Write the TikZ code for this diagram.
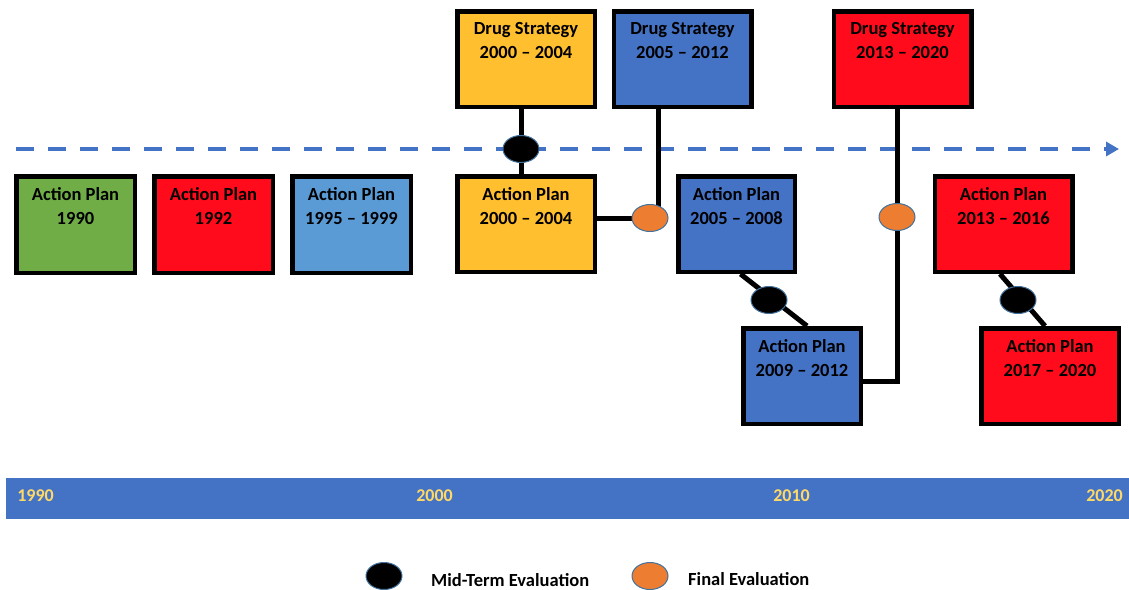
\documentclass[tikz,border=0pt]{standalone}
\usepackage{fontspec}
\setmainfont{Carlito}
\usetikzlibrary{arrows.meta,shapes.geometric}
\definecolor{cgreen}{HTML}{70AD47}
\definecolor{cred}{HTML}{FF0B1B}
\definecolor{clblue}{HTML}{5B9BD5}
\definecolor{cblue}{HTML}{4472C4}
\definecolor{cgold}{HTML}{FFBF2E}
\definecolor{corange}{HTML}{ED7D31}
\definecolor{cedge}{HTML}{41719C}
\definecolor{cyear}{HTML}{FFD966}
\tikzset{
  box/.style={draw=black, line width=4.5pt, inner sep=0pt, minimum width=137.5pt, minimum height=95.5pt},
  smallbox/.style={box, minimum width=118.5pt, minimum height=96.5pt},
  boxtext/.style={anchor=north, inner sep=0pt, yshift=-13.5pt, align=center,
    font=\fontsize{18.5}{23.5}\selectfont\bfseries},
  conn/.style={draw=black, line width=5pt},
  evalnode/.style={ellipse, draw=cedge, line width=1pt, inner sep=0pt, minimum width=36pt, minimum height=27pt},
  midev/.style={evalnode, fill=black},
  finev/.style={evalnode, fill=corange},
  yearlab/.style={text=cyear, inner sep=0pt, font=\fontsize{18}{20}\selectfont\bfseries},
  legtext/.style={anchor=west, inner sep=0pt, font=\fontsize{18.5}{20}\selectfont\bfseries},
  timeaxis/.style={draw=cblue, line width=4.5pt, dash pattern=on 18pt off 14pt, -{Triangle[length=13pt,width=14pt]}},
}
\begin{document}
\begin{tikzpicture}[x=1pt, y=-1pt]
\useasboundingbox (0,0) rectangle (1129,589);

% dashed time axis
\coordinate (axs) at (16,149);
\coordinate (axe) at (1119,149);
\draw[timeaxis] (axs) -- (axe);

% boxes
\node[smallbox, fill=cgreen] (ap1990) at (75.5,224.5) {};
\node[smallbox, fill=cred] (ap1992) at (213.5,224.5) {};
\node[smallbox, fill=clblue] (ap1995) at (351.5,224.5) {};
\node[box, fill=cgold] (ds2000) at (526,59) {};
\node[box, fill=cgold] (ap2000) at (526,224) {};
\node[box, fill=cblue] (ds2005) at (682.5,59) {};
\node[box, fill=cblue, minimum width=116.5pt] (ap2005) at (736.5,224) {};
\node[box, fill=cblue, minimum width=117.5pt] (ap2009) at (802,376) {};
\node[box, fill=cred] (ds2013) at (902.5,59) {};
\node[box, fill=cred] (ap2013) at (1003.5,224) {};
\node[box, fill=cred] (ap2017) at (1050,376) {};

\node[boxtext] at (ap1990.north) {Action Plan\\1990};
\node[boxtext] at (ap1992.north) {Action Plan\\1992};
\node[boxtext] at (ap1995.north) {Action Plan\\1995 -- 1999};
\node[boxtext] at (ds2000.north) {Drug Strategy\\2000 -- 2004};
\node[boxtext] at (ap2000.north) {Action Plan\\2000 -- 2004};
\node[boxtext] at (ds2005.north) {Drug Strategy\\2005 -- 2012};
\node[boxtext] at (ap2005.north) {Action Plan\\2005 -- 2008};
\node[boxtext] at (ap2009.north) {Action Plan\\2009 -- 2012};
\node[boxtext] at (ds2013.north) {Drug Strategy\\2013 -- 2020};
\node[boxtext] at (ap2013.north) {Action Plan\\2013 -- 2016};
\node[boxtext] at (ap2017.north) {Action Plan\\2017 -- 2020};

% evaluation markers (positions)
\coordinate (me1c) at (521,149);
\coordinate (fe1c) at (650,218);
\coordinate (j1) at (658,218);
\coordinate (me2c) at (769,300);
\coordinate (fe2c) at (897,217);
\coordinate (c2) at (897,381);
\coordinate (me3c) at (1018,300);

% connectors
\draw[conn] (ds2000.south -| me1c) -- (ap2000.north -| me1c);
\draw[conn] (ap2000.east |- fe1c) -- (fe1c);
\draw[conn] (ds2005.south -| j1) -- (j1);
\draw[conn] ([xshift=4pt]ap2005.south) -- ([xshift=5pt]ap2009.north);
\draw[conn, line join=miter] (ds2013.south -| c2) -- (c2) -- (ap2009.east |- c2);
\draw[conn] ([xshift=-3.5pt]ap2013.south) -- ([xshift=-5pt]ap2017.north);

\node[midev] (me1) at (me1c) {};
\node[finev] (fe1) at (fe1c) {};
\node[midev] (me2) at (me2c) {};
\node[finev] (fe2) at (fe2c) {};
\node[midev] (me3) at (me3c) {};

% time bar
\node[fill=cblue, inner sep=0pt, minimum width=1123pt, minimum height=41pt, anchor=north west] (bar) at (6,478) {};
\node[yearlab] (y1990) at (35.5,496) {1990};
\node[yearlab] (y2000) at (434.5,496) {2000};
\node[yearlab] (y2010) at (791.5,496) {2010};
\node[yearlab] (y2020) at (1104.5,496) {2020};

% legend
\node[midev] (legmid) at (384,576) {};
\node[legtext] (legmidt) at (431,580) {Mid-Term Evaluation};
\node[finev] (legfin) at (650,576) {};
\node[legtext] (legfint) at (688,579) {Final Evaluation};
\end{tikzpicture}
\end{document}
